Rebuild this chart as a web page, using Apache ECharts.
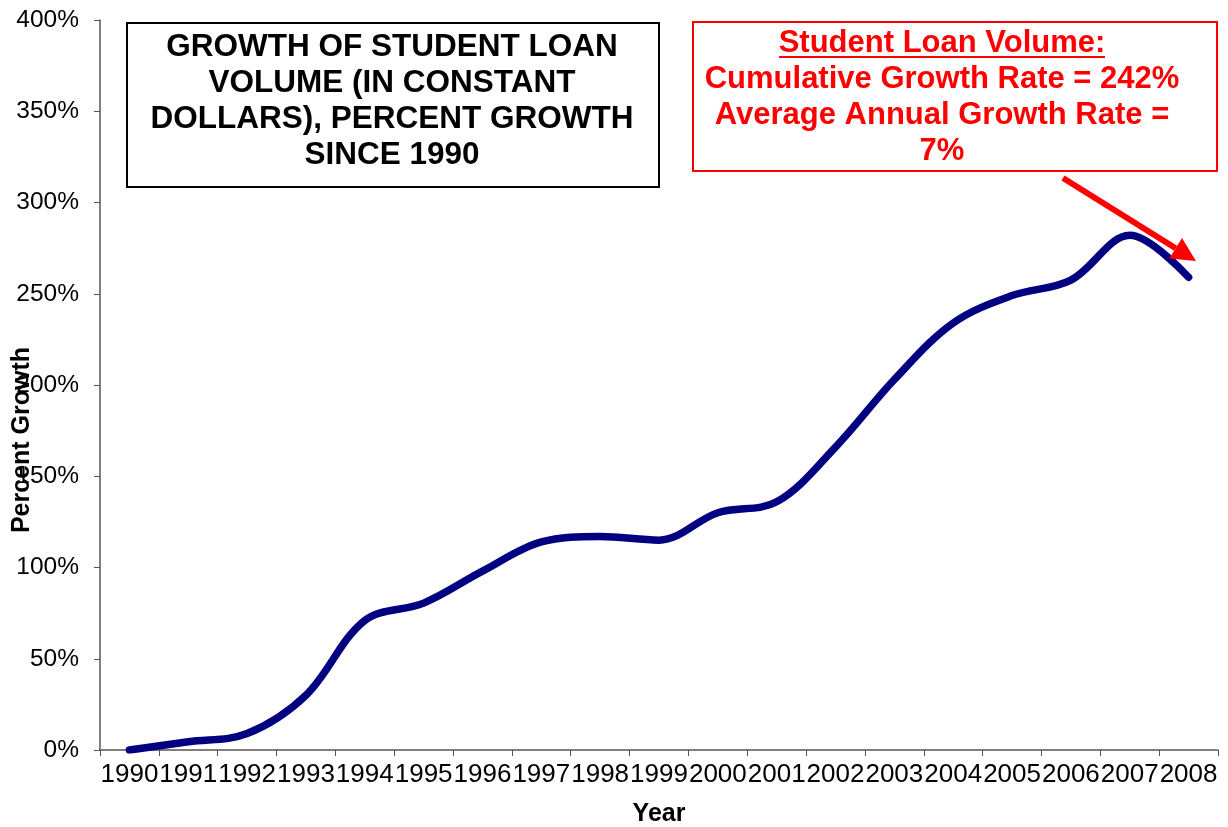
<!DOCTYPE html>
<html>
<head>
<meta charset="utf-8">
<script src="https://cdn.jsdelivr.net/npm/echarts@6/dist/echarts.min.js"></script>
<style>
html,body{margin:0;padding:0;background:#fff;}
#chart{width:1228px;height:827px;}
</style>
</head>
<body>
<div id="chart"></div>
<script>
const years = ['1990','1991','1992','1993','1994','1995','1996','1997','1998','1999','2000','2001','2002','2003','2004','2005','2006','2007','2008'];
const growth = [0, 4.5, 9, 30, 71, 80.5, 98, 114, 117, 115, 130, 136, 166, 203, 234, 249, 257.5, 282, 259];
const yTicks = [0, 50, 100, 150, 200, 250, 300, 350, 400];
const titleLines = ['GROWTH OF STUDENT LOAN', 'VOLUME (IN CONSTANT', 'DOLLARS), PERCENT GROWTH', 'SINCE 1990'];
const noteLines = ['Student Loan Volume:', 'Cumulative Growth Rate = 242%', 'Average Annual Growth Rate =', '7%'];

const chart = echarts.init(document.getElementById('chart'));
const FONT = 'Liberation Sans';

function arrow(x1, y1, x2, y2, w, headLen, headW, color) {
  const a = Math.atan2(y2 - y1, x2 - x1);
  const bx = x2 - headLen * Math.cos(a), by = y2 - headLen * Math.sin(a);
  const px = -Math.sin(a), py = Math.cos(a);
  return [
    {type:'line', shape:{x1:x1, y1:y1, x2:bx, y2:by}, style:{stroke:color, lineWidth:w}, z:20},
    {type:'polygon', shape:{points:[[x2,y2],[bx+px*headW, by+py*headW],[bx-px*headW, by-py*headW]]}, style:{fill:color}, z:20}
  ];
}

const graphics = [];
graphics.push({type:'rect', shape:{x:127, y:23, width:532, height:164}, style:{fill:'#fff', stroke:'#000', lineWidth:2}, z:10});
titleLines.forEach((t, i) => {
  graphics.push({type:'text', x:392, y:47 + i*36, style:{text:t, fill:'#000', fontFamily:FONT, fontWeight:'bold', fontSize:31.5, textAlign:'center', textVerticalAlign:'middle'}, z:11});
});
graphics.push({type:'rect', shape:{x:693, y:22, width:524, height:149}, style:{fill:'#fff', stroke:'#ff0000', lineWidth:2}, z:10});
noteLines.forEach((t, i) => {
  graphics.push({type:'text', x:942, y:43 + i*36, style:{text:t, fill:'#ff0000', fontFamily:FONT, fontWeight:'bold', fontSize:31, textAlign:'center', textVerticalAlign:'middle'}, z:11});
});
graphics.push({type:'line', shape:{x1:779, y1:57, x2:1105, y2:57}, style:{stroke:'#ff0000', lineWidth:2}, z:11});
graphics.push({type:'text', x:22, y:440, rotation:Math.PI/2, style:{text:'Percent Growth', fill:'#000', fontFamily:FONT, fontWeight:'bold', fontSize:25, textAlign:'center', textVerticalAlign:'middle'}, z:12});
arrow(1063, 178, 1196, 261, 6, 24, 12, '#ff0000').forEach(g => graphics.push(g));

chart.setOption({
  animation: false,
  backgroundColor: '#fff',
  grid: {left:100, right:10, top:20, bottom:77, containLabel:false, outerBoundsMode:'none'},
  xAxis: {
    type: 'category',
    data: years,
    boundaryGap: true,
    name: 'Year',
    nameLocation: 'middle',
    nameGap: 52,
    nameMoveOverlap: false,
    nameTextStyle: {fontFamily: FONT, fontWeight: 'bold', fontSize: 25, color: '#000'},
    axisLine: {lineStyle: {color: '#555', width: 1.5}},
    axisTick: {show: true, length: 6, lineStyle: {color: '#555'}},
    axisLabel: {interval: 0, fontFamily: FONT, fontSize: 26, color: '#000', margin: 12}
  },
  yAxis: {
    type: 'value',
    min: 0, max: 400, interval: 50,
    axisLine: {show: true, lineStyle: {color: '#555', width: 1.5}},
    axisTick: {show: true, length: 6, lineStyle: {color: '#555'}},
    splitLine: {show: false},
    axisLabel: {fontFamily: FONT, fontSize: 24.5, color: '#000', margin: 21,
      formatter: v => yTicks.includes(v) ? v + '%' : ''}
  },
  series: [{
    type: 'line',
    data: growth,
    smooth: 0.35,
    symbol: 'none',
    lineStyle: {color: '#000080', width: 7.5, cap: 'round', join: 'round'},
    z: 5
  }],
  graphic: graphics
});
</script>
</body>
</html>
